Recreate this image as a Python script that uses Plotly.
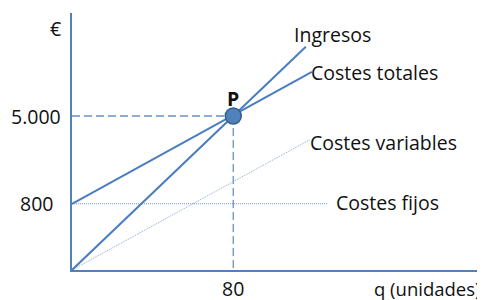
import plotly.graph_objects as go

# Schematic break-even chart (in chart units)
ingresos_q = [0, 116]
ingresos_v = [0, 7250]
ct_q = [0, 119]
ct_v = [2150, 6430]
cv_q = [0, 118]
cv_v = [0, 4230]
cf_q = [0, 127]
cf_v = [2150, 2150]
p_q = 80
p_v = 5000
y_tick_vals = [5000, 2150]
y_tick_text = ["5.000", "800"]
x_tick_text = "80"
series_labels = ["Ingresos", "Costes totales", "Costes variables", "Costes fijos"]

BLUE = "#4F81BD"
FONT = "'Open Sans', Lato, sans-serif"
FS = 19.5

fig = go.Figure()
# guide dashed lines to P
fig.add_trace(go.Scatter(x=[0, p_q], y=[p_v, p_v], mode="lines",
                         line=dict(color="#6b8fc7", width=1.3, dash="8px,4px")))
fig.add_trace(go.Scatter(x=[p_q, p_q], y=[p_v, 0], mode="lines",
                         line=dict(color="#6b8fc7", width=1.3, dash="8px,4px")))
# costes fijos
fig.add_trace(go.Scatter(x=cf_q, y=cf_v, mode="lines",
                         line=dict(color="#6f96cf", width=1, dash="1px,1px")))
# costes variables
fig.add_trace(go.Scatter(x=cv_q, y=cv_v, mode="lines",
                         line=dict(color="#8aa9d8", width=1, dash="1px,1px")))
# costes totales
fig.add_trace(go.Scatter(x=ct_q, y=ct_v, mode="lines",
                         line=dict(color="#4a7cc0", width=2)))
# ingresos
fig.add_trace(go.Scatter(x=ingresos_q, y=ingresos_v, mode="lines",
                         line=dict(color="#4a7cc0", width=2)))
# point P
fig.add_trace(go.Scatter(x=[p_q], y=[p_v], mode="markers",
                         marker=dict(size=16, color="#4F81BD",
                                     line=dict(color="#385d8a", width=1.5))))

ann = []
def a(text, x, y, xanchor="left", yanchor="middle", xshift=0, yshift=0, bold=False,
      xref="x", yref="y", size=FS):
    ann.append(dict(text=("<b>%s</b>" % text) if bold else text, x=x, y=y,
                    xref=xref, yref=yref, showarrow=False,
                    xanchor=xanchor, yanchor=yanchor, xshift=xshift, yshift=yshift,
                    font=dict(family=FONT, size=size, color="#111")))

a(series_labels[0], 110.5, 7650, xshift=-3)
a(series_labels[1], 119.5, 6420, xshift=-4)
a(series_labels[2], 118.5, 4150, xshift=-3)
a(series_labels[3], 131, 2180, xshift=-2)
a("P", p_q, p_v, xanchor="center", yanchor="middle", yshift=18, bold=True)
a("€", 0, 7857, xanchor="right", xshift=-9)
a(y_tick_text[0], 0, y_tick_vals[0], xanchor="right", xshift=-9)
a(y_tick_text[1], 0, y_tick_vals[1], xanchor="right", xshift=-17)
a(x_tick_text, p_q, 0, xanchor="center", yanchor="top", yshift=-3)
a("q (unidades)", 1, 0, xanchor="right", yanchor="top", yshift=-4, xshift=0,
  xref="paper", yref="paper", size=18.5)

# page body has an 8px margin: figure sized so plot area lands at (72..483, 13..270)
fig.update_layout(
    width=477, height=292,
    margin=dict(l=64, r=2, t=5, b=30),
    paper_bgcolor="white", plot_bgcolor="white",
    showlegend=False,
    annotations=ann,
    xaxis=dict(range=[0, 203.9], showgrid=False, zeroline=False, showticklabels=False,
               showline=True, linecolor=BLUE, linewidth=1.5, ticks=""),
    yaxis=dict(range=[0, 8344], showgrid=False, zeroline=False, showticklabels=False,
               showline=True, linecolor=BLUE, linewidth=1.5, ticks=""),
)

fig.write_html("out.html")
